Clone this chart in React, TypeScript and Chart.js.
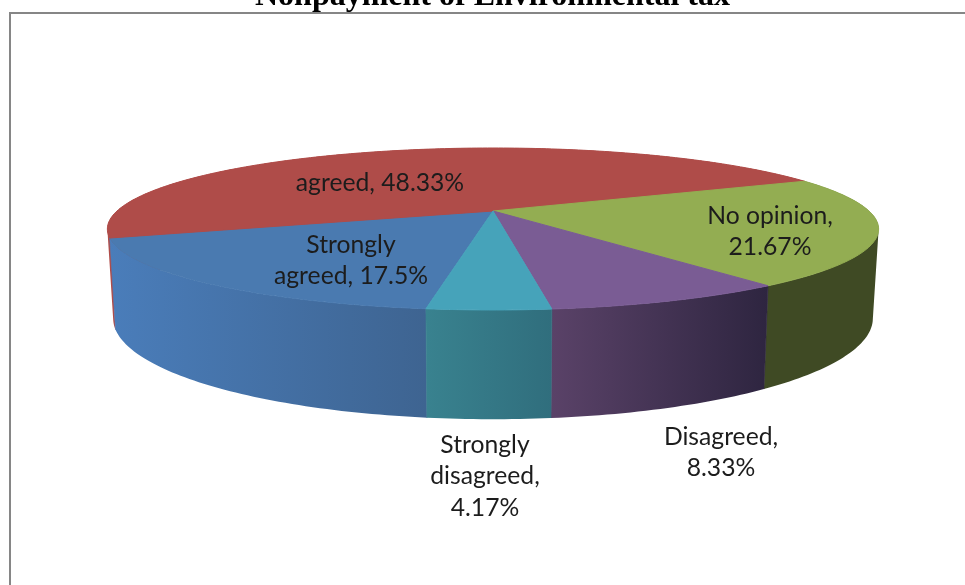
import React, { useEffect, useRef } from "react";
import { Chart, registerables } from "chart.js";

Chart.register(...registerables);

const titleText = "Nonpayment of Environmental tax";
const categories = ["Strongly agreed", "agreed", "No opinion", "Disagreed", "Strongly disagreed"];
const shares = [17.5, 48.33, 21.67, 8.33, 4.17];
const topColors = ["#4a7ab0", "#af4c49", "#93ad52", "#7a5c94", "#46a3ba"];
const sideFrom = ["#4a7dba", "#b04c49", "#3f4a24", "#5a4268", "#39828f"];
const sideTo = ["#3e6491", "#b04c49", "#3f4a24", "#2e2540", "#306e7d"];

const CANVAS_TOP = -20;
const CX = 493;
const CY = 211 - CANVAS_TOP;
const A = 376;
const B = 77;
const K = 0.222;
const DEPTH = 85;
const SHRINK = 0.985;

const labelPlacement = [
  { x: 351, y: 245, wrap: 160 },
  { x: 380, y: 183, wrap: 200 },
  { x: 770, y: 216, wrap: 140 },
  { x: 721, y: 437, wrap: 110 },
  { x: 485, y: 445, wrap: 120 },
];

function top(angle: number) {
  const X = Math.cos(angle);
  const Y = Math.sin(angle);
  const w = 1 - K * Y;
  return { x: CX + (A * X) / w, y: CY + (B * Y) / w };
}

function bottom(angle: number) {
  const X = Math.cos(angle);
  const Y = Math.sin(angle);
  const w = 1 - K * Y;
  return { x: CX + (SHRINK * A * X) / w, y: CY + (B * Y + DEPTH) / w };
}

function sweep(start: number, end: number) {
  const n = Math.max(2, Math.ceil(((end - start) * 180) / Math.PI));
  const out: number[] = [];
  for (let i = 0; i <= n; i++) out.push(start + ((end - start) * i) / n);
  return out;
}

type P = { x: number; y: number };

function addQuad(ctx: CanvasRenderingContext2D, quad: P[]) {
  let area = 0;
  quad.forEach((p, i) => {
    const q = quad[(i + 1) % quad.length];
    area += p.x * q.y - q.x * p.y;
  });
  const pts = area < 0 ? [...quad].reverse() : quad;
  pts.forEach((p, i) => (i ? ctx.lineTo(p.x, p.y) : ctx.moveTo(p.x, p.y)));
  ctx.closePath();
}

const pie3d = {
  id: "pie3d",
  beforeDatasetsDraw(chart: any) {
    const ctx = chart.ctx as CanvasRenderingContext2D;
    const arcs = chart.getDatasetMeta(0).data as any[];

    ctx.save();
    ctx.strokeStyle = "#868686";
    ctx.lineWidth = 2;
    ctx.beginPath();
    ctx.moveTo(10, 605);
    ctx.lineTo(10, 13 - CANVAS_TOP);
    ctx.lineTo(965, 13 - CANVAS_TOP);
    ctx.stroke();

    const order = arcs
      .map((arc, i) => ({ arc, i, depth: Math.sin((arc.startAngle + arc.endAngle) / 2) }))
      .sort((a, b) => a.depth - b.depth);

    ctx.lineWidth = 0.6;
    ctx.lineJoin = "round";
    for (const { arc, i } of order) {
      const angles = sweep(arc.startAngle, arc.endAngle);
      const tops = angles.map(top);
      const bottoms = angles.map(bottom);
      const xs = [...tops, ...bottoms].map((p) => p.x);
      const g = ctx.createLinearGradient(Math.min(...xs), 0, Math.max(...xs), 0);
      g.addColorStop(0, sideFrom[i]);
      g.addColorStop(1, sideTo[i]);
      ctx.fillStyle = g;
      ctx.strokeStyle = g;
      ctx.beginPath();
      for (let n = 0; n < angles.length - 1; n++) {
        addQuad(ctx, [tops[n], tops[n + 1], bottoms[n + 1], bottoms[n]]);
      }
      ctx.fill("nonzero");
      ctx.beginPath();
      ctx.moveTo(tops[0].x, tops[0].y);
      ctx.lineTo(bottoms[0].x, bottoms[0].y);
      ctx.moveTo(tops[tops.length - 1].x, tops[tops.length - 1].y);
      ctx.lineTo(bottoms[bottoms.length - 1].x, bottoms[bottoms.length - 1].y);
      ctx.stroke();
    }

    ctx.lineWidth = 1;
    arcs.forEach((arc, i) => {
      ctx.fillStyle = topColors[i];
      ctx.strokeStyle = topColors[i];
      ctx.beginPath();
      ctx.moveTo(CX, CY);
      sweep(arc.startAngle, arc.endAngle).map(top).forEach((p) => ctx.lineTo(p.x, p.y));
      ctx.closePath();
      ctx.stroke();
      ctx.fill();
    });

    ctx.font = "24.7px Lato";
    ctx.fillStyle = "#1c1c1c";
    ctx.textAlign = "center";
    ctx.textBaseline = "middle";
    arcs.forEach((_, i) => {
      const place = labelPlacement[i];
      const words = `${categories[i]}, ${shares[i]}%`.split(" ");
      const lines: string[] = [];
      let line = "";
      for (const word of words) {
        const next = line ? `${line} ${word}` : word;
        if (line && ctx.measureText(next).width > place.wrap) {
          lines.push(line);
          line = word;
        } else line = next;
      }
      lines.push(line);
      lines.forEach((text, n) => ctx.fillText(text, place.x, place.y - CANVAS_TOP + n * 31.5));
    });
    ctx.restore();
    return false;
  },
};

export default function App() {
  const ref = useRef<HTMLCanvasElement>(null);
  useEffect(() => {
    const chart = new Chart(ref.current!, {
      type: "pie",
      data: {
        labels: categories,
        datasets: [{ data: shares, backgroundColor: topColors, borderWidth: 0 }],
      },
      options: {
        responsive: false,
        animation: false,
        rotation: 188,
        layout: { padding: { left: 20 } },
        plugins: {
          legend: { display: false },
          tooltip: { enabled: false },
          title: {
            display: true,
            text: titleText,
            color: "#000000",
            font: { family: "Liberation Serif", size: 32, weight: "bold", lineHeight: 1.05 },
            padding: { top: 0, bottom: 0 },
          },
        },
      },
      plugins: [pie3d],
    } as any);
    return () => chart.destroy();
  }, []);
  return (
    <div style={{ position: "fixed", left: 0, top: 0, width: 965, height: 585, overflow: "hidden", background: "#fff" }}>
      <canvas
        ref={ref}
        width={965}
        height={605}
        style={{ position: "absolute", left: 0, top: CANVAS_TOP, width: 965, height: 605 }}
      />
    </div>
  );
}
